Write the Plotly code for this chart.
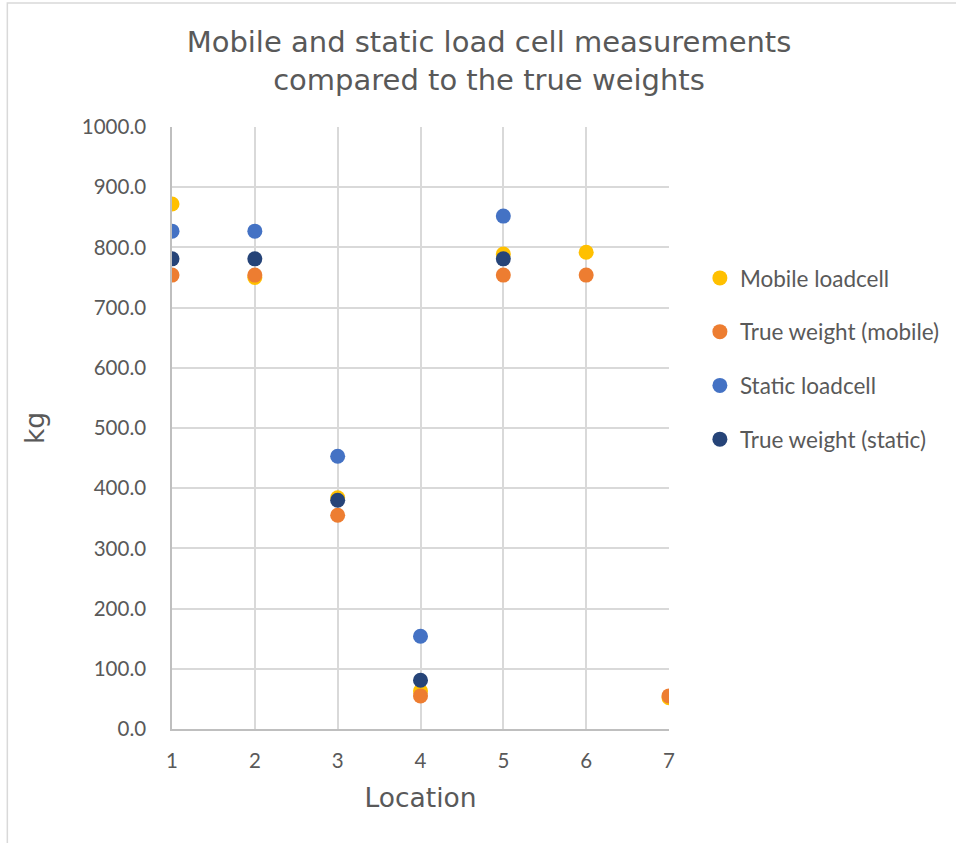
import plotly.graph_objects as go

# Measurement data (kg) per location
locations = [1, 2, 3, 4, 5, 6, 7]
mobile_loadcell = [872, 750, 384, 63, 789, 792, 52]
true_weight_mobile = [754, 754, 355, 55, 754, 754, 55]
static_locations = [1, 2, 3, 4, 5]
static_loadcell = [827, 827, 453, 154, 852]
true_weight_static = [781, 781, 380, 81, 781]

FONT = "Lato"
TITLE_FONT = "DejaVu Sans"
TEXT = "#595959"
GRID = "#D9D9D9"

fig = go.Figure()
series = [
    ("Mobile loadcell", locations, mobile_loadcell, "#FFC000"),
    ("True weight (mobile)", locations, true_weight_mobile, "#ED7D31"),
    ("Static loadcell", static_locations, static_loadcell, "#4472C4"),
    ("True weight (static)", static_locations, true_weight_static, "#264478"),
]
for name, xs, ys, color in series:
    fig.add_trace(go.Scatter(
        x=xs, y=ys, mode="markers", name=name, legendgroup=name,
        marker=dict(size=15, color=color, line=dict(width=0)),
    ))

fig.update_layout(
    width=956, height=843,
    paper_bgcolor="white", plot_bgcolor="white",
    margin=dict(l=172, r=286, t=127, b=114),
    font=dict(family=FONT, color=TEXT),
    title=dict(
        text="Mobile and static load cell measurements<br>compared to the true weights",
        x=489 / 956, xanchor="center", y=1 - 52 / 843, yanchor="middle",
        font=dict(family=TITLE_FONT, size=29, color=TEXT),
    ),
    legend=dict(
        x=1.06, xanchor="left", y=0.615, yanchor="middle",
        font=dict(family=FONT, size=22.5, color=TEXT),
        tracegroupgap=21.5, itemwidth=30,
        bgcolor="rgba(0,0,0,0)",
    ),
    showlegend=True,
)

fig.update_xaxes(
    range=[1, 7], tickvals=locations, ticktext=[str(v) for v in locations],
    showgrid=True, gridcolor=GRID, gridwidth=1.5,
    showline=True, linecolor="#BFBFBF", linewidth=1.5, mirror=False,
    zeroline=False,
    ticks="outside", ticklen=13, tickcolor="rgba(0,0,0,0)",
    tickfont=dict(family=FONT, size=20.5, color=TEXT),
    title=dict(text="Location", font=dict(family=TITLE_FONT, size=26.5, color=TEXT), standoff=17),
)
fig.update_yaxes(
    range=[0, 1000], dtick=100, tickformat=".1f",
    showgrid=True, gridcolor=GRID, gridwidth=1.5,
    showline=True, linecolor="#BFBFBF", linewidth=1.5,
    zeroline=False,
    ticks="outside", ticklen=20, tickcolor="rgba(0,0,0,0)",
    tickfont=dict(family=FONT, size=20.5, color=TEXT),
    title=dict(text="kg", font=dict(family=TITLE_FONT, size=26.5, color=TEXT), standoff=30),
)

# Thin chart-area border along the left and top edges
fig.add_shape(type="rect", xref="paper", yref="paper",
              x0=(7 - 172) / 498, x1=(1000 - 172) / 498,
              y0=(729 - 900) / 602, y1=(729 - 3) / 602,
              line=dict(color="#D9D9D9", width=1.5), layer="below")

fig.write_html("out.html")
